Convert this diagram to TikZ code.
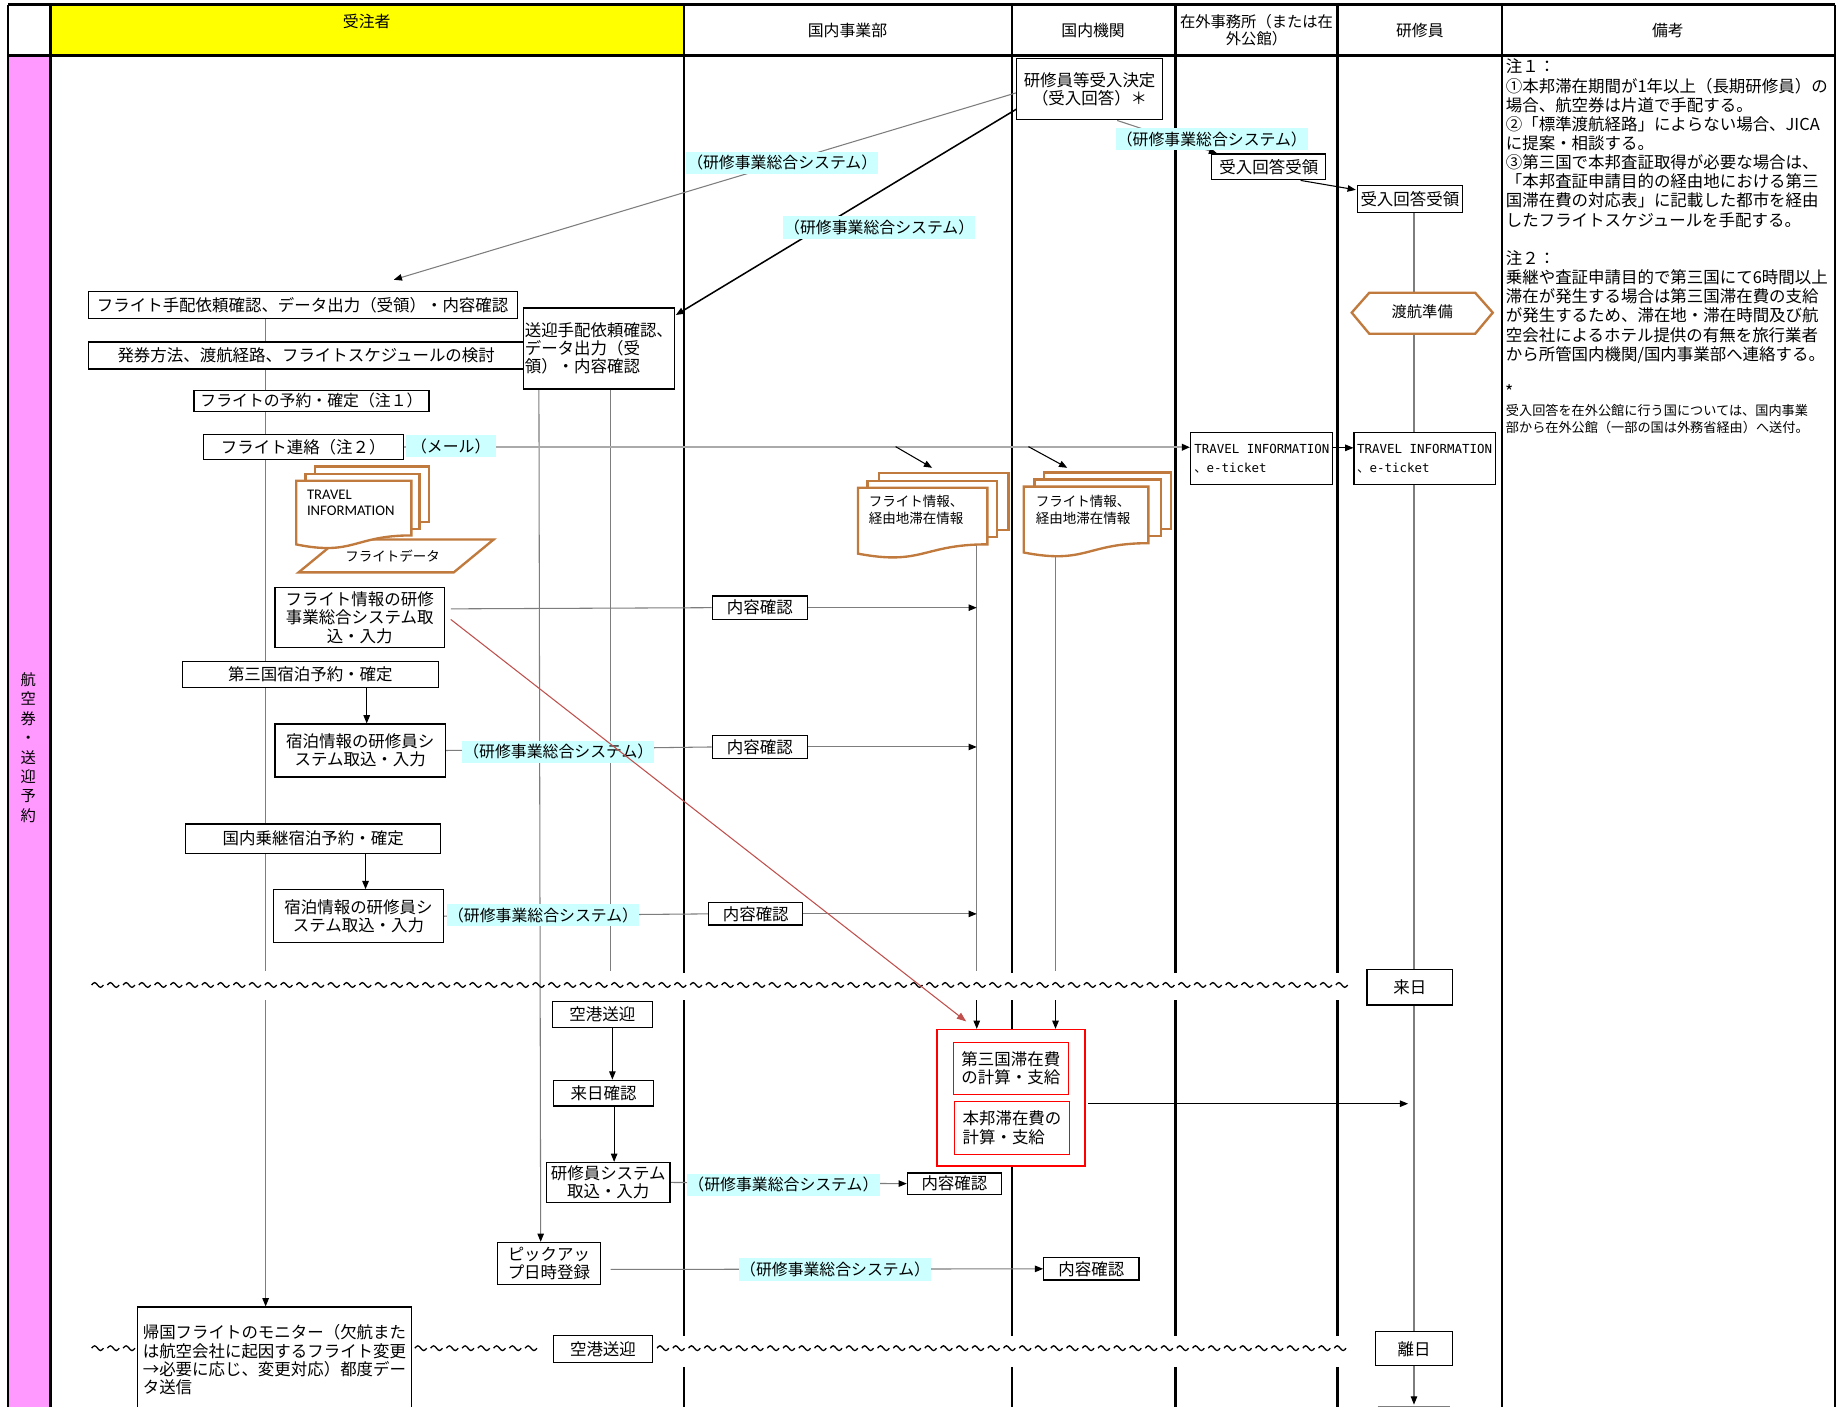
\documentclass[tikz,border=0pt]{standalone}
\usepackage{fontspec}
\setmainfont{Noto Sans CJK JP}
\newfontfamily\dmono{DejaVu Sans Mono}
\newfontfamily\carl{Carlito}
\usetikzlibrary{arrows.meta,calc}
\pgfdeclarelayer{back}
\pgfdeclarelayer{lines}
\pgfsetlayers{back,lines,main}
\newcommand\fsz[2]{\fontsize{#1}{#2}\selectfont}
\definecolor{cyanlab}{RGB}{204,255,255}
\definecolor{pinkc}{RGB}{255,153,255}
\definecolor{yellowc}{RGB}{255,255,0}
\definecolor{brownc}{RGB}{192,122,62}
\definecolor{redline}{RGB}{192,80,77}
\definecolor{lgray}{RGB}{170,170,170}
\definecolor{mgray}{RGB}{125,125,125}
\newcommand\docfront[4]{\filldraw[docst] (#1,#2) -- ({#1+#3},#2) -- ({#1+#3},{#2+0.802*#4}) .. controls ({#1+0.5*#3},{#2+0.802*#4}) and ({#1+0.5*#3},{#2+1.107*#4}) .. (#1,{#2+0.934*#4}) -- cycle;}
\begin{document}
\begin{tikzpicture}[x=1pt,y=-1pt,
  gridln/.style={black,line width=2pt},
  bx/.style={draw=black,line width=1pt,fill=white,inner sep=1pt,align=center,font=\fsz{14}{15.5}},
  kb/.style={bx,minimum width=81,minimum height=19},
  lab/.style={fill=cyanlab,inner sep=1pt,minimum height=19,font=\fsz{13.5}{15}},
  hd/.style={inner sep=0pt,align=center,font=\fsz{13.5}{15}},
  gl/.style={draw=mgray,line width=0.9pt},
  bl/.style={draw=black,line width=0.9pt},
  tri/.style={-{Triangle[length=7pt,width=5.5pt,color=black]}},
  docst/.style={draw=brownc,line width=2pt,fill=white},
  tld/.style={black,line width=1.1pt},
]
\useasboundingbox (0,0) rectangle (1568,1197);

% ---------- background grid ----------
\begin{pgfonlayer}{back}
\fill[white] (0,0) rectangle (1568,1197);
\fill[yellowc] (43,4) rectangle (582,47);
\fill[pinkc] (7,47) rectangle (43,1197);
\draw[gridln,line width=2.5pt] (7,4) -- (1561,4);
\draw[gridln,line width=2.5pt] (7,47) -- (1561,47);
\foreach \x in {7,43,1278,1561} \draw[gridln] (\x,4) -- (\x,1197);
\foreach \x in {582,861,1000,1138} {
  \draw[gridln] (\x,4) -- (\x,828);
  \draw[gridln] (\x,851) -- (\x,1137);
  \draw[gridln] (\x,1163) -- (\x,1197);
}
\end{pgfonlayer}

% ---------- header ----------
\node[hd] (h1) at (312,18) {受注者};
\node[hd] (h2) at (721,26) {国内事業部};
\node[hd] (h3) at (930,26) {国内機関};
\node[hd,font=\fsz{13}{14.5}] (h4) at (1069,26) {在外事務所（または在\\外公館）};
\node[hd] (h5) at (1208,26) {研修員};
\node[hd] (h6) at (1419,26) {備考};
\node[align=center,inner sep=0pt,font=\fsz{13}{16.5}] (lane) at (24,636) {航\\空\\券\\・\\送\\迎\\予\\約};

% ---------- notes ----------
\node[anchor=north west,align=left,inner sep=0pt,font=\fsz{14}{16.3}] (note) at (1281,50) {注１：\\①本邦滞在期間が1年以上（長期研修員）の\\場合、航空券は片道で手配する。\\②「標準渡航経路」によらない場合、JICA\\に提案・相談する。\\③第三国で本邦査証取得が必要な場合は、\\「本邦査証申請目的の経由地における第三\\国滞在費の対応表」に記載した都市を経由\\したフライトスケジュールを手配する。\\[16.3pt]注２：\\乗継や査証申請目的で第三国にて6時間以上\\滞在が発生する場合は第三国滞在費の支給\\が発生するため、滞在地・滞在時間及び航\\空会社によるホテル提供の有無を旅行業者\\から所管国内機関/国内事業部へ連絡する。};
\node[anchor=north west,align=left,inner sep=0pt,font=\fsz{11.2}{14.3}] (note2) at (1281,327) {{\fsz{15}{14.3}*}\\受入回答を在外公館に行う国については、国内事業\\部から在外公館（一部の国は外務省経由）へ送付。};

% ---------- top flow ----------
\node[bx,minimum width=124,minimum height=52] (n1) at (927,76) {研修員等受入決定\\（受入回答）＊};
\node[lab] (lab0) at (1031,118.5) {（研修事業総合システム）};
\node[bx,minimum width=97,minimum height=22] (rcv1) at (1079.5,142) {受入回答受領};
\node[bx,minimum width=89,minimum height=23] (rcv2) at (1199.5,169.5) {受入回答受領};
\node[lab] (lab1) at (665.5,138.5) {（研修事業総合システム）};
\node[lab] (lab1b) at (748,193.5) {（研修事業総合システム）};

\node[bx,minimum width=365,minimum height=23] (n7) at (257.5,259.5) {フライト手配依頼確認、データ出力（受領）・内容確認};
\node[bx,minimum width=371,minimum height=23] (n8) at (260.5,302.5) {発券方法、渡航経路、フライトスケジュールの検討};
\node[bx,minimum width=200,minimum height=18,font=\fsz{13.5}{15}] (n9) at (265,341) {フライトの予約・確定（注１）};
\node[bx,minimum width=170,minimum height=21] (n10) at (258,380.5) {フライト連絡（注２）};
\node[lab,minimum width=77] (mlab) at (383.5,379.5) {（メール）};
\node[bx,minimum width=127,minimum height=69,align=left] (n12) at (509.5,296.5) {送迎手配依頼確認、\\データ出力（受\\領）・内容確認};

% hexagon
\draw[docst] (1150,266) -- (1165,249) -- (1255,249) -- (1270,266) -- (1255,284) -- (1165,284) -- cycle;
\node[inner sep=0pt,font=\fsz{13}{15}] (junbi) at (1210,265) {渡航準備};

\node[bx,minimum width=121,minimum height=44,align=left,font=\dmono\fsz{10.6}{16}] (trav1) at (1073.5,390) {TRAVEL INFORMATION\\{\rmfamily 、}e-ticket};
\node[bx,minimum width=120,minimum height=44,align=left,font=\dmono\fsz{10.6}{16}] (trav2) at (1212,390) {TRAVEL INFORMATION\\{\rmfamily 、}e-ticket};

% travel information documents
\filldraw[docst] (288,459) -- (420,459) -- (386,487) -- (254,487) -- cycle;
\node[inner sep=0pt,font=\fsz{11.5}{13}] (fdata) at (334,473) {フライトデータ};
\filldraw[docst] (268,397) rectangle (365,444);
\filldraw[docst] (260,403) rectangle (357,450);
\docfront{252}{409}{98}{58}
\node[anchor=north west,align=left,inner sep=0pt,font=\carl\fsz{12.5}{13.5}] (tinfo) at (261,417) {TRAVEL\\INFORMATION};

% flight info documents
\filldraw[docst] (748,402.5) rectangle (858,451);
\filldraw[docst] (738,409) rectangle (848,457);
\docfront{730}{415}{110}{60}
\node[anchor=north west,align=left,inner sep=0pt,font=\fsz{11.5}{14.5}] (fi1) at (739,421) {フライト情報、\\経由地滞在情報};
\filldraw[docst] (888,402) rectangle (996,450);
\filldraw[docst] (880,408) rectangle (988,456);
\docfront{871}{414}{106}{60}
\node[anchor=north west,align=left,inner sep=0pt,font=\fsz{11.5}{14.5}] (fi2) at (881,421) {フライト情報、\\経由地滞在情報};

% ---------- middle flow ----------
\node[bx,minimum width=144,minimum height=51] (n22) at (306,525.5) {フライト情報の研修\\事業総合システム取\\込・入力};
\node[kb,minimum height=20] (kaku1) at (646.5,517) {内容確認};
\node[bx,minimum width=218,minimum height=22] (n25) at (264,574) {第三国宿泊予約・確定};
\node[bx,minimum width=145,minimum height=45] (n27) at (306.5,638.5) {宿泊情報の研修員シ\\ステム取込・入力};
\node[lab] (lab2) at (475,639.5) {（研修事業総合システム）};
\node[kb] (kaku2) at (646.5,635.5) {内容確認};
\node[bx,minimum width=217,minimum height=25] (n29) at (266.5,713.5) {国内乗継宿泊予約・確定};
\node[bx,minimum width=144,minimum height=45] (n31) at (305,779.5) {宿泊情報の研修員シ\\ステム取込・入力};
\node[lab] (lab3) at (462,778.5) {（研修事業総合システム）};
\node[kb,minimum width=80] (kaku3) at (643,777.5) {内容確認};

% ---------- after arrival ----------
\node[bx,minimum width=73,minimum height=30] (raijitsu) at (1199.5,840) {来日};
\node[bx,minimum width=85,minimum height=22] (kuko1) at (512.5,863) {空港送迎};
\node[bx,minimum width=85,minimum height=22] (raikaku) at (513.5,930) {来日確認};
\node[bx,minimum width=105,minimum height=34] (kenshu) at (517.5,1006) {研修員システム\\取込・入力};
\node[lab] (lab4) at (666.5,1008) {（研修事業総合システム）};
\node[kb,minimum width=80,minimum height=18] (kaku4) at (812,1007) {内容確認};
\node[bx,minimum width=88,minimum height=36] (pickup) at (467,1075) {ピックアッ\\プ日時登録};
\node[lab] (lab5) at (710.5,1080) {（研修事業総合システム）};
\node[kb] (kaku5) at (928.5,1079.5) {内容確認};
\node[draw=red,line width=1.3pt,fill=white,minimum width=126,minimum height=116] (redbox) at (860,934) {};
\node[bx,draw=red,minimum width=98,minimum height=44] (red1) at (860,909) {第三国滞在費\\の計算・支給};
\node[bx,draw=red,minimum width=98,minimum height=45,align=left] (red2) at (861,959.5) {本邦滞在費の\\計算・支給};
\node[bx,minimum width=233,minimum height=90,align=left] (kikoku) at (233.5,1157) {帰国フライトのモニター（欠航また\\は航空会社に起因するフライト変更\\→必要に応じ、変更対応）都度デー\\タ送信};
\node[bx,minimum width=84,minimum height=23] (kuko2) at (513,1147.5) {空港送迎};
\node[bx,minimum width=66,minimum height=29] (rijitsu) at (1203,1147.5) {離日};
\draw[mgray,line width=1pt] (1172,1196.5) -- (1234,1196.5);

% ---------- tilde rows ----------
\foreach \xx in {78,91.4,...,1140} {\draw[tld] (\xx,838) sin ++(2.5,-2) cos ++(2.5,2) sin ++(2.5,2) cos ++(2.5,-2);}
\foreach \xx in {78,91.4,104.8} {\draw[tld] (\xx,1147) sin ++(2.5,-2) cos ++(2.5,2) sin ++(2.5,2) cos ++(2.5,-2);}
\foreach \xx in {353,366.4,...,460} {\draw[tld] (\xx,1147) sin ++(2.5,-2) cos ++(2.5,2) sin ++(2.5,2) cos ++(2.5,-2);}
\foreach \xx in {559,572.4,...,1140} {\draw[tld] (\xx,1147) sin ++(2.5,-2) cos ++(2.5,2) sin ++(2.5,2) cos ++(2.5,-2);}

% ---------- connectors ----------
\coordinate (e7) at (335,238);
\coordinate (e12) at (575,268);
\coordinate (lx1) at (226,826);
\coordinate (lx1b) at (226,851);
\coordinate (p1) at (458.5,0);
\coordinate (p2) at (460,0);
\coordinate (q1) at (519.5,826);
\coordinate (mb1s) at (762,380);
\coordinate (mb1e) at (793,398);
\coordinate (mb2s) at (875,380);
\coordinate (mb2e) at (908,398);
\coordinate (lx) at (1203,0);
\coordinate (bot) at (1203,1195);
\coordinate (dl) at (831,455);
\coordinate (dlb) at (831,826);
\coordinate (dlc) at (831,851);
\coordinate (dr) at (898,455);
\coordinate (drb) at (898,826);
\coordinate (drc) at (898,851);
\coordinate (a1) at (312,0);
\coordinate (a2) at (311,0);
\coordinate (a3) at (521,0);
\coordinate (a4) at (522.5,0);
\coordinate (rend) at (822,869);
\coordinate (rend2) at (1198,939);

\begin{pgfonlayer}{lines}
\draw[gl,tri] ($(n1.south east)+(-39,0)$) -- ($(rcv1.north west)+(5,0)$);
\draw[bl,tri] ($(rcv1.south east)+(-22,0)$) -- ($(rcv2.north west)+(-1,4)$);
\draw[gl,tri] ($(n1.west)+(0,3)$) -- (e7);
\draw[black,line width=1.3pt,tri] ($(n1.west)+(0,17)$) -- (e12);
\draw[gl] (n7.south -| lx1) -- (lx1);
\draw[gl,tri] (lx1b) -- (kikoku.north -| lx1b);
\draw[gl,tri] (n12.south -| p1) -- (pickup.north -| p2);
\draw[gl] (n12.south -| q1) -- (q1);
\draw[draw=lgray,line width=2pt,tri] (n10.east) -- (trav1.west |- n10.east);
\draw[bl,tri] (mb1s) -- (mb1e);
\draw[bl,tri] (mb2s) -- (mb2e);
\draw[bl,tri] ($(trav1.east)+(0,-9)$) -- ($(trav2.west)+(0,-9)$);
\draw[gl] (rcv2.south -| lx) -- (raijitsu.north -| lx);
\draw[gl] (raijitsu.south -| lx) -- (rijitsu.north -| lx);
\draw[gl,tri] (rijitsu.south -| lx) -- (bot);
\draw[gl] (dl) -- (dlb);
\draw[bl,tri] (dlc) -- (redbox.north -| dlc);
\draw[gl] (dr) -- (drb);
\draw[bl,tri] (drc) -- (redbox.north -| drc);
\draw[gl] ($(n22.east)+(5,-7.5)$) -- (kaku1.west);
\draw[gl,tri] (kaku1.east) -- (kaku1.east -| dl);
\draw[bl,tri] (n25.south -| a1) -- (n27.north -| a1);
\draw[gl] (n27.east) -- (kaku2.west);
\draw[gl,tri] (kaku2.east) -- (kaku2.east -| dl);
\draw[bl,tri] (n29.south -| a2) -- (n31.north -| a2);
\draw[gl] (n31.east) -- (kaku3.west);
\draw[gl,tri] (kaku3.east) -- (kaku3.east -| dl);
\draw[bl,tri] (kuko1.south -| a3) -- (raikaku.north -| a3);
\draw[bl,tri] (raikaku.south -| a4) -- (kenshu.north -| a4);
\draw[gl,tri] (kenshu.east) -- (kaku4.west);
\draw[gl,tri] ($(pickup.east)+(8,5)$) -- (kaku5.west);
\draw[bl,tri] ($(redbox.east)+(2,5)$) -- (rend2);
\end{pgfonlayer}
\draw[draw=redline,line width=0.9pt,-{Triangle[length=8pt,width=6pt]}] ($(n22.east)+(5,1.5)$) -- (rend);
\end{tikzpicture}
\end{document}
